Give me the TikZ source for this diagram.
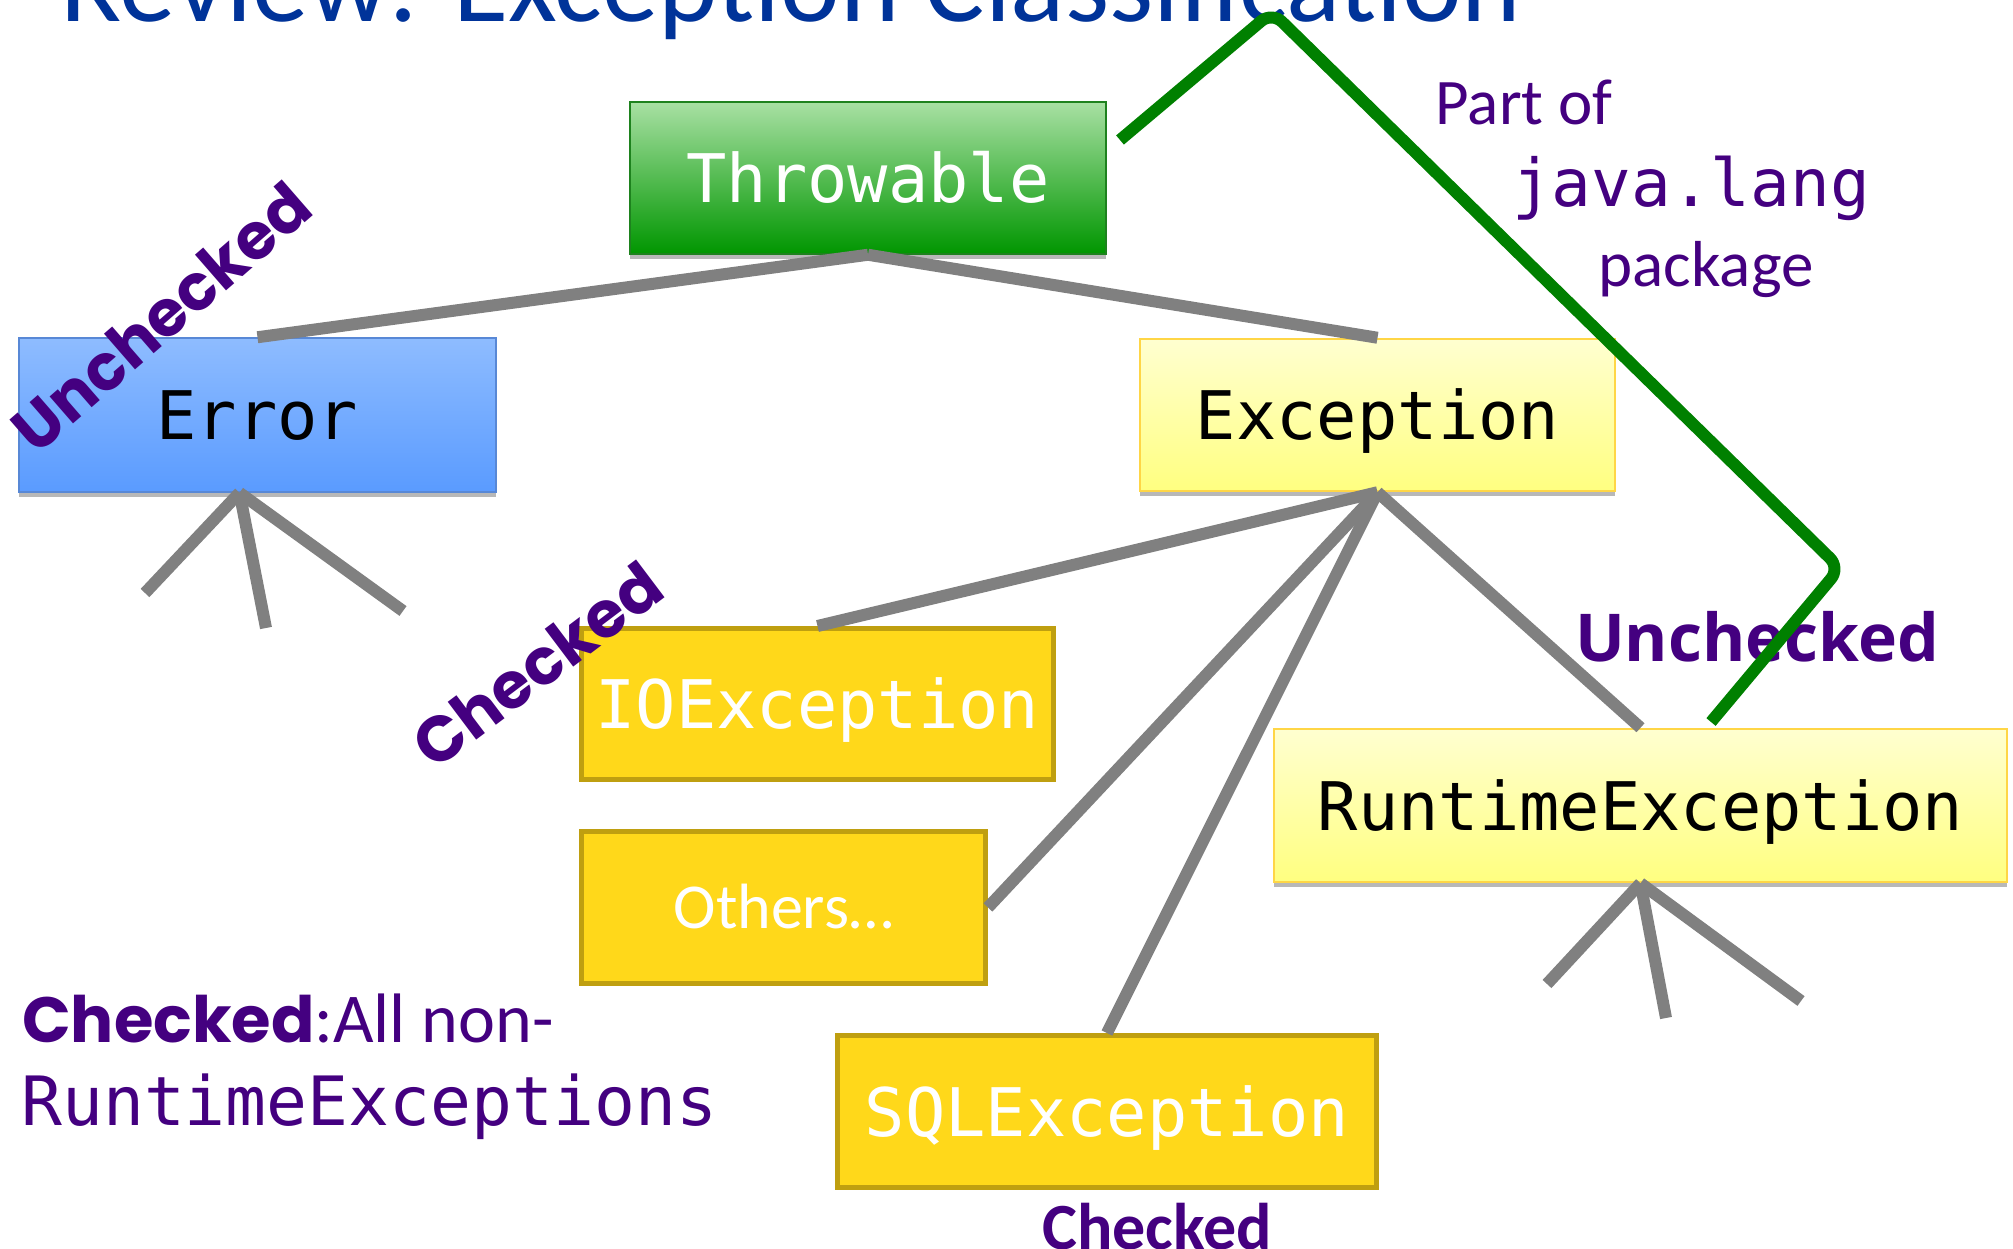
\documentclass[tikz,border=0pt]{standalone}
\usepackage{fontspec}
\setmainfont{Carlito}
\newfontfamily\monofont{DejaVu Sans Mono}
\newfontfamily\geofont{Poppins}
\newfontfamily\humfont{Open Sans}
\usetikzlibrary{shadows}
\newcommand\fsz[1]{\fontsize{#1}{#1}\selectfont}

\definecolor{titleblue}{RGB}{0,51,153}
\definecolor{ink}{RGB}{68,0,128}
\definecolor{treegray}{RGB}{128,128,128}
\definecolor{javagreen}{RGB}{0,128,0}
\definecolor{goldfill}{RGB}{255,216,26}
\definecolor{golddraw}{RGB}{191,159,16}
\definecolor{paletop}{RGB}{255,255,208}
\definecolor{palebottom}{RGB}{255,255,128}
\definecolor{paledraw}{RGB}{255,214,70}
\definecolor{bluetop}{RGB}{142,188,255}
\definecolor{bluebottom}{RGB}{90,155,255}
\definecolor{bluedraw}{RGB}{88,136,214}
\definecolor{greentop}{RGB}{168,224,163}
\definecolor{greenbottom}{RGB}{0,150,0}
\definecolor{greendraw}{RGB}{30,130,30}

\begin{document}
\begin{tikzpicture}[x=1pt,y=-1pt,
  classbox/.style={inner sep=0pt, align=center,
    font=\monofont\fsz{67}, text height=49pt, text depth=0pt},
  soft shadow/.style={drop shadow={shadow xshift=0pt, shadow yshift=-5pt,
    opacity=0.28, fill=black}},
  greenbox/.style={classbox, soft shadow, top color=greentop, bottom color=greenbottom,
    draw=greendraw, line width=1.5pt, text=white},
  bluebox/.style={classbox, soft shadow, top color=bluetop, bottom color=bluebottom,
    draw=bluedraw, line width=1.5pt, text=black},
  palebox/.style={classbox, soft shadow, top color=paletop, bottom color=palebottom,
    draw=paledraw, line width=2.5pt, text=black},
  goldbox/.style={classbox, fill=goldfill, draw=golddraw, line width=5pt, text=white},
  branch/.style={draw=treegray, line width=12pt},
  javaline/.style={draw=javagreen, line width=12pt, rounded corners=14pt, line join=round},
  plain/.style={inner sep=0pt, text=ink},
  note/.style={plain, font=\fsz{65}},
  notemono/.style={plain, font=\monofont\fsz{66}},
  tagrot/.style={plain, font=\geofont\bfseries\fsz{64}},
  tagright/.style={plain, font=\humfont\bfseries\fsz{66}},
  tagbottom/.style={plain, font=\bfseries\fsz{66}}
]
\useasboundingbox (0,0) rectangle (2013,1249);
\fill[white] (0,0) rectangle (2013,1249);

% heading
\node[inner sep=0pt, anchor=base west, text=titleblue, font=\fsz{113}] (title)
  at (60,22) {Review: Exception Classification};

% class boxes
\node[greenbox, minimum width=476pt, minimum height=152pt] (throwable) at (868,178) {Throwable};
\node[bluebox, minimum width=477pt, minimum height=154pt] (error) at (257.5,415) {Error};
\node[palebox, minimum width=475pt, minimum height=152pt] (exception) at (1377.5,415) {Exception};
\node[goldbox, minimum width=472pt, minimum height=151pt] (ioexc) at (817.5,704) {IOException};
\node[goldbox, minimum width=404pt, minimum height=152pt, font=\fsz{64}, text height=41pt] (others)
  at (783.5,907.5) {Others…};
\node[goldbox, minimum width=539pt, minimum height=152pt] (sqlexc) at (1107,1111.5) {SQLException};
\node[palebox, minimum width=733pt, minimum height=153pt] (runtime) at (1640.5,805.5) {RuntimeException};

% inheritance branches
\draw[branch] (throwable.south) -- (error.north);
\draw[branch] (throwable.south) -- (exception.north);
\draw[branch] (exception.south) -- (ioexc.north);
\draw[branch] (exception.south) -- (others.east);
\draw[branch] (exception.south) -- (sqlexc.north);
\draw[branch] (exception.south) -- (runtime.north);

% open-ended subclasses
\coordinate (errapex) at ([xshift=-18pt]error.south);
\coordinate (e1) at (145,593);
\coordinate (e2) at (266,628);
\coordinate (e3) at (403,611);
\draw[branch] (errapex) -- (e1);
\draw[branch] (errapex) -- (e2);
\draw[branch] (errapex) -- (e3);
\coordinate (r1) at (1547,984);
\coordinate (r2) at (1666,1018);
\coordinate (r3) at (1801,1001);
\draw[branch] (runtime.south) -- (r1);
\draw[branch] (runtime.south) -- (r2);
\draw[branch] (runtime.south) -- (r3);

% labels
\node[tagrot, rotate=41] (uncheckedL) at (161,317) {Unchecked};
\node[tagrot, rotate=37] (checkedL) at (537,665) {Checked};
\node[tagright, anchor=base] (uncheckedR) at (1757,661) {Unchecked};
\node[tagbottom, anchor=base] (checkedB) at (1157,1249) {Checked};

\node[note, anchor=base] (partof) at (1524,125) {Part of};
\node[notemono, anchor=base] (javalang) at (1691,207) {java.lang};
\node[note, anchor=base] (pkg) at (1706,287) {package};

\node[plain, anchor=base west, font=\fsz{70}] (summary1) at (22,1042)
  {{\geofont\bfseries\fsz{64}Checked}:All non-};
\node[plain, anchor=base west, font=\monofont\fsz{68}] (summary2) at (21,1125) {RuntimeExceptions};

% java.lang bracket
\coordinate (g0) at (1120,140);
\coordinate (g1) at (1272,12);
\coordinate (g2) at (1840,568);
\coordinate (g3) at (1711,722);
\draw[javaline] (g0) -- (g1) -- (g2) -- (g3);
\end{tikzpicture}
\end{document}
